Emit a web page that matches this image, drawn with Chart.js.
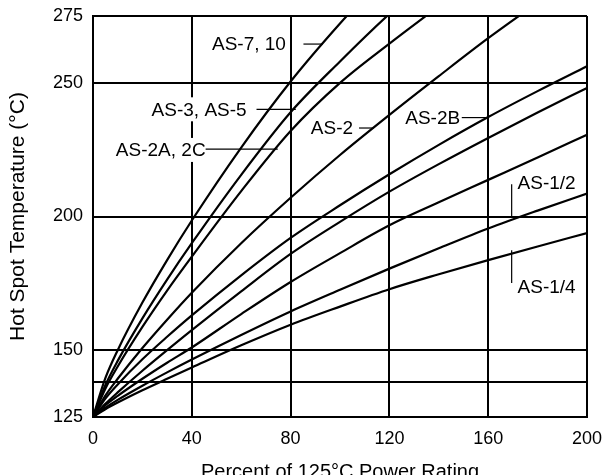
<!DOCTYPE html>
<html>
<head>
<meta charset="utf-8">
<script src="https://cdn.jsdelivr.net/npm/chart.js@4.4.1/dist/chart.umd.min.js"></script>
<style>
html,body{margin:0;padding:0;overflow:hidden;background:#fff;}
#wrap{width:605px;height:488px;}
</style>
</head>
<body>
<div id="wrap"><canvas id="c"></canvas></div>
<script>
// ---- data ----
const percentRating = [0, 5, 10, 20, 30, 40, 60, 80, 100, 120, 140, 160, 180, 200];
const as7_10  = [125, 139.5, 150.0, 167.8, 183.7, 198.5, 225.8, 250.5, 272.2, 292.0, null, null, null, null];
const as3_as5 = [125, 136.9, 146.0, 161.9, 176.4, 190.0, 215.6, 239.0, 258.0, 275.8, 292.0, null, null, null];
const as2a_2c = [125, 135.6, 143.9, 158.7, 172.3, 185.0, 209.5, 232.0, 250.0, 264.7, 278.7, null, null, null];
const as2     = [125, 133.0, 139.3, 150.8, 161.4, 171.5, 190.0, 207.0, 223.0, 238.0, 252.5, 266.7, 280.0, null];
const as2b    = [125, 131.9, 137.2, 146.6, 155.0, 163.0, 178.0, 192.0, 204.2, 215.8, 226.8, 237.2, 246.9, 256.2];
const curve6  = [125, 129.9, 134.2, 142.3, 150.0, 157.5, 172.0, 186.0, 198.0, 209.3, 219.6, 229.4, 238.9, 248.1];
const curve7  = [125, 129.4, 132.9, 139.3, 145.3, 151.0, 163.5, 175.5, 186.3, 196.7, 205.3, 213.7, 222.1, 230.6];
const as1_2   = [125, 128.5, 131.4, 136.7, 141.7, 146.5, 155.7, 164.5, 172.6, 180.5, 188.1, 195.5, 202.2, 208.6];
const as1_4   = [125, 127.9, 130.4, 135.0, 139.3, 143.5, 151.8, 159.5, 166.3, 172.8, 178.4, 183.7, 188.8, 193.8];

const seriesNames = ['AS-7, 10', 'AS-3, AS-5', 'AS-2A, 2C', 'AS-2', 'AS-2B', 'curve 6', 'curve 7', 'AS-1/2', 'AS-1/4'];
const seriesValues = [as7_10, as3_as5, as2a_2c, as2, as2b, curve6, curve7, as1_2, as1_4];

const xTickValues = [0, 40, 80, 120, 160, 200];
const yTickValues = [125, 138, 150, 200, 250, 275];
const yTickLabels = ['125', '', '150', '200', '250', '275'];

// annotation labels (text, anchor, leader line) in data units
const annotations = [
  {text: 'AS-7, 10',   tx: 78.1,  ty: 264.5, align: 'right', bg: false, l: [[85.2, 264.5], [93.0, 264.5]]},
  {text: 'AS-3, AS-5', tx: 62.2,  ty: 240.1, align: 'right', bg: true,  l: [[66.2, 240.1], [82.1, 240.1]]},
  {text: 'AS-2A, 2C',  tx: 45.6,  ty: 224.9, align: 'right', bg: true,  l: [[45.6, 225.2], [74.8, 225.2]]},
  {text: 'AS-2',       tx: 88.2,  ty: 233.1, align: 'left',  bg: false, l: [[107.7, 233.1], [113.7, 233.1]]},
  {text: 'AS-2B',      tx: 126.4, ty: 237.0, align: 'left',  bg: false, l: [[149.3, 237.0], [159.7, 237.0]]},
  {text: 'AS-1/2',     tx: 171.9, ty: 212.7, align: 'left',  bg: false, l: [[169.5, 212.1], [169.5, 199.7]]},
  {text: 'AS-1/4',     tx: 171.9, ty: 173.8, align: 'left',  bg: false, l: [[169.5, 187.4], [169.5, 175.1]]}
];

const FONT = '"Liberation Sans", Arial, Helvetica, sans-serif';

const labelPlugin = {
  id: 'curveLabels',
  afterDraw(chart) {
    const {ctx, scales: {x, y}} = chart;
    ctx.save();
    ctx.font = '19px ' + FONT;
    ctx.textBaseline = 'middle';
    for (const a of annotations) {
      const px = x.getPixelForValue(a.tx);
      const py = y.getPixelForValue(a.ty);
      ctx.textAlign = a.align;
      const w = ctx.measureText(a.text).width;
      if (a.bg) {
        const left = a.align === 'right' ? px - w : px;
        ctx.fillStyle = '#fff';
        ctx.fillRect(left - 3, py - 12, w + 5, 24);
      }
      ctx.fillStyle = '#000';
      ctx.fillText(a.text, px, py + 1);
      ctx.beginPath();
      ctx.lineWidth = 1.2;
      ctx.strokeStyle = '#000';
      ctx.moveTo(x.getPixelForValue(a.l[0][0]), y.getPixelForValue(a.l[0][1]));
      ctx.lineTo(x.getPixelForValue(a.l[1][0]), y.getPixelForValue(a.l[1][1]));
      ctx.stroke();
    }
    ctx.restore();
  }
};

const datasets = seriesValues.map((vals, i) => ({
  label: seriesNames[i],
  data: percentRating.map((p, j) => ({x: p, y: vals[j]})),
  borderColor: '#000',
  borderWidth: 2.2,
  pointRadius: 0,
  fill: false,
  cubicInterpolationMode: 'monotone',
  spanGaps: false,
  clip: 0
}));

new Chart(document.getElementById('c'), {
  type: 'line',
  data: {datasets},
  plugins: [labelPlugin],
  options: {
    responsive: true,
    maintainAspectRatio: false,
    animation: false,
    layout: {padding: {left: 0, right: 18, top: 16, bottom: 0}},
    plugins: {legend: {display: false}, tooltip: {enabled: false}},
    scales: {
      x: {
        type: 'linear',
        min: 0, max: 200,
        afterBuildTicks(s) { s.ticks = xTickValues.map(v => ({value: v})); },
        afterFit(s) { s.height = 71; s.paddingLeft = 0; s.paddingRight = 0; },
        ticks: {color: '#000', font: {family: FONT, size: 18}, padding: 11, maxRotation: 0},
        grid: {color: '#000', lineWidth: 2, drawTicks: false},
        border: {display: true, color: '#000', width: 2},
        title: {display: true, text: 'Percent of 125°C Power Rating', color: '#000',
                font: {family: FONT, size: 20}, padding: {top: 0, bottom: 4}}
      },
      y: {
        type: 'linear',
        min: 125, max: 275,
        afterBuildTicks(s) { s.ticks = yTickValues.map(v => ({value: v})); },
        afterFit(s) { s.width = 93; s.paddingTop = 0; s.paddingBottom = 0; },
        ticks: {
          color: '#000', font: {family: FONT, size: 18}, padding: 10,
          callback(v) { const i = yTickValues.indexOf(v); return i >= 0 ? yTickLabels[i] : ''; }
        },
        grid: {color: '#000', lineWidth: 2, drawTicks: false},
        border: {display: true, color: '#000', width: 2},
        title: {display: true, text: 'Hot Spot Temperature (°C)', color: '#000',
                font: {family: FONT, size: 21}, padding: {top: 6, bottom: 0}}
      }
    }
  }
});
</script>
</body>
</html>
